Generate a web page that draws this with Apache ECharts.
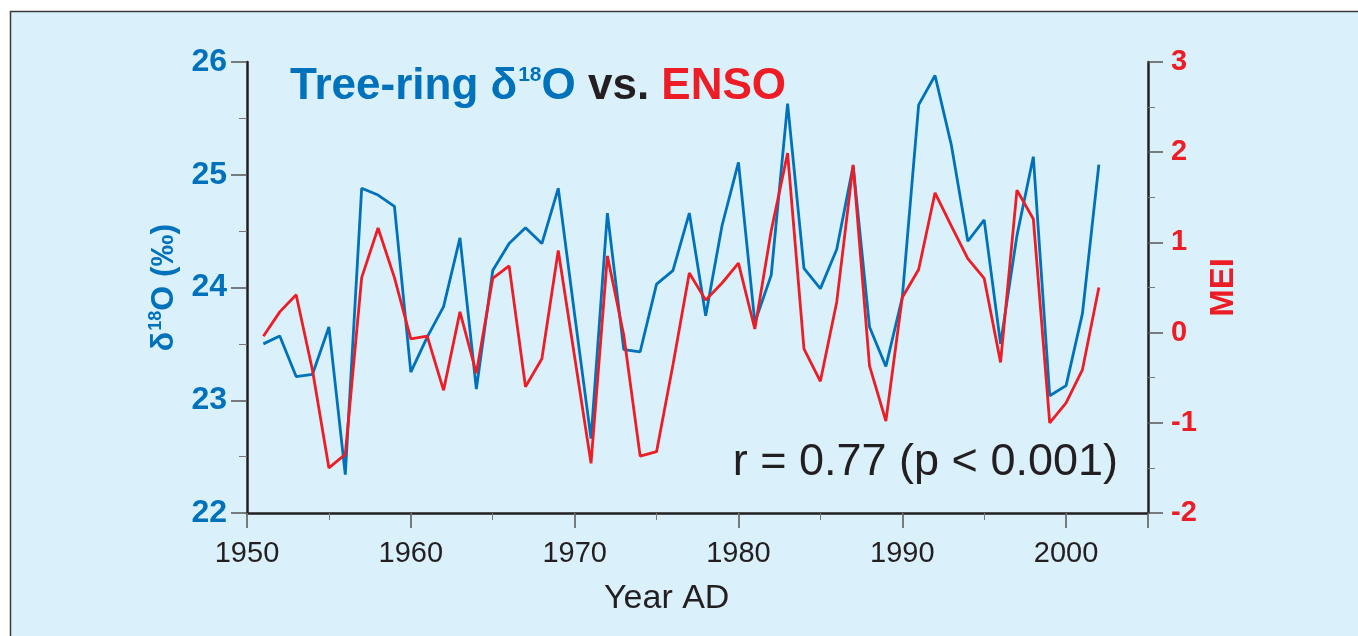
<!DOCTYPE html>
<html>
<head>
<meta charset="utf-8">
<script src="https://cdn.jsdelivr.net/npm/echarts@6/dist/echarts.min.js"></script>
<style>
html,body{margin:0;padding:0;background:#ffffff;}
#chart{width:1358px;height:636px;}
</style>
</head>
<body>
<div id="chart"></div>
<script>
const years = [1951,1952,1953,1954,1955,1956,1957,1958,1959,1960,
  1961,1962,1963,1964,1965,1966,1967,1968,1969,1970,
  1971,1972,1973,1974,1975,1976,1977,1978,1979,1980,
  1981,1982,1983,1984,1985,1986,1987,1988,1989,1990,
  1991,1992,1993,1994,1995,1996,1997,1998,1999,2000,2001,2002];
const d18O = [23.50,23.57,23.21,23.23,23.65,22.34,24.88,24.82,24.72,23.25,
  23.56,23.83,24.44,23.10,24.15,24.39,24.53,24.39,24.88,23.76,
  22.66,24.66,23.45,23.43,24.03,24.15,24.66,23.75,24.55,25.11,
  23.69,24.11,25.63,24.17,23.99,24.34,25.08,23.65,23.30,23.91,
  25.62,25.88,25.26,24.41,24.60,23.50,24.46,25.16,23.04,23.13,23.77,25.09];
const mei = [-0.04,0.23,0.42,-0.42,-1.50,-1.35,0.61,1.16,0.61,-0.07,
  -0.04,-0.64,0.23,-0.45,0.60,0.74,-0.60,-0.29,0.91,-0.27,
  -1.45,0.85,-0.03,-1.37,-1.32,-0.36,0.66,0.36,0.55,0.77,
  0.04,1.13,1.99,-0.18,-0.54,0.34,1.86,-0.37,-0.98,0.39,
  0.70,1.55,1.18,0.82,0.60,-0.33,1.58,1.26,-1.00,-0.78,-0.41,0.50];
const xTicks = [1950,1960,1970,1980,1990,2000];
const leftTicks = [22,23,24,25,26];
const rightTicks = [-2,-1,0,1,2,3];

const BLUE = '#0071bb';
const RED = '#ee1d25';
const INK = '#231f20';
const BG = '#daf0fb';
const FF = '"Liberation Sans", Arial, sans-serif';

const chart = echarts.init(document.getElementById('chart'), null, {renderer:'canvas'});
const blueData = years.map((y,i)=>[y,d18O[i]]);
const redData = years.map((y,i)=>[y,mei[i]]);

const option = {
  animation:false,
  backgroundColor:'#ffffff',
  graphic:[
    {type:'rect', z:-100, silent:true, shape:{x:10.5,y:11.5,width:1400,height:700},
     style:{fill:BG, stroke:'#3a3a3a', lineWidth:1.5}},
    {type:'text', left:604, top:582, silent:true,
     style:{text:'Year AD', font:'34px ' + FF, fill:INK}},
    {type:'text', right:240, top:440, silent:true,
     style:{text:'r = 0.77 (p < 0.001)', font:'45px ' + FF, fill:INK}}
  ],
  title:{
    text:'{b|Tree-ring δ}{s|18}{b|O}{k| vs. }{r|ENSO}',
    left:285, top:58,
    textStyle:{
      rich:{
        b:{fontSize:44,fontWeight:'bold',color:BLUE,fontFamily:FF,lineHeight:46,verticalAlign:'bottom'},
        s:{fontSize:21,fontWeight:'bold',color:BLUE,fontFamily:FF,lineHeight:21,verticalAlign:'top',padding:[2,0,0,1]},
        k:{fontSize:44,fontWeight:'bold',color:INK,fontFamily:FF,lineHeight:46,verticalAlign:'bottom'},
        r:{fontSize:44,fontWeight:'bold',color:RED,fontFamily:FF,lineHeight:46,verticalAlign:'bottom'}
      }
    }
  },
  grid:{left:247, right:210, top:62, bottom:123, containLabel:false},
  xAxis:[
    {type:'value', min:1950, max:2005, interval:10, position:'bottom',
     axisLine:{show:true, onZero:false, lineStyle:{color:INK,width:2.5}},
     axisTick:{show:true, length:15, lineStyle:{color:'#555',width:1.5}},
     axisLabel:{show:true, margin:26, fontSize:29, color:INK, fontFamily:FF,
       formatter:function(v){return xTicks.indexOf(v)>=0 ? String(v) : '';}},
     splitLine:{show:false}},
    {type:'value', min:1950, max:2005, interval:5, position:'bottom',
     axisLine:{show:false, onZero:false},
     axisTick:{show:true, length:7, lineStyle:{color:'#777',width:1}},
     axisLabel:{show:false},
     splitLine:{show:false}}
  ],
  yAxis:[
    {type:'value', min:22, max:26, interval:1, position:'left',
     name:'{a|δ}{s|18}{a|O (‰)}', nameLocation:'middle', nameRotate:90, nameGap:66,
     nameTextStyle:{rich:{
       a:{fontSize:32,fontWeight:'bold',color:BLUE,fontFamily:FF,lineHeight:34,verticalAlign:'bottom'},
       s:{fontSize:18,fontWeight:'bold',color:BLUE,fontFamily:FF,lineHeight:18,verticalAlign:'top',padding:[1,0,0,1]}
     }},
     axisLine:{show:true, lineStyle:{color:INK,width:2.5}},
     axisTick:{show:true, length:16, lineStyle:{color:'#555',width:1.5}},
     minorTick:{show:true, splitNumber:2, length:8, lineStyle:{color:'#777',width:1}},
     axisLabel:{margin:20, fontSize:32, fontWeight:'bold', color:BLUE, fontFamily:FF,
       formatter:function(v){return leftTicks.indexOf(v)>=0 ? String(v) : '';}},
     splitLine:{show:false}},
    {type:'value', min:-2, max:3, interval:1, position:'right',
     name:'MEI', nameLocation:'middle', nameRotate:90, nameGap:58,
     nameTextStyle:{fontSize:33, fontWeight:'bold', color:RED, fontFamily:FF},
     axisLine:{show:true, lineStyle:{color:INK,width:2.5}},
     axisTick:{show:true, length:15, lineStyle:{color:'#555',width:1.5}},
     minorTick:{show:true, splitNumber:2, length:7, lineStyle:{color:'#777',width:1}},
     axisLabel:{margin:23, fontSize:29, fontWeight:'bold', color:RED, fontFamily:FF,
       formatter:function(v){return rightTicks.indexOf(v)>=0 ? String(v) : '';}},
     splitLine:{show:false}}
  ],
  series:[
    {name:'δ18O', type:'line', xAxisIndex:0, yAxisIndex:0, data:blueData, showSymbol:false, symbol:'none',
     lineStyle:{color:BLUE,width:2.8}, z:3},
    {name:'MEI', type:'line', xAxisIndex:0, yAxisIndex:1, data:redData, showSymbol:false, symbol:'none',
     lineStyle:{color:RED,width:2.8}, z:4}
  ]
};
chart.setOption(option);
</script>
</body>
</html>
